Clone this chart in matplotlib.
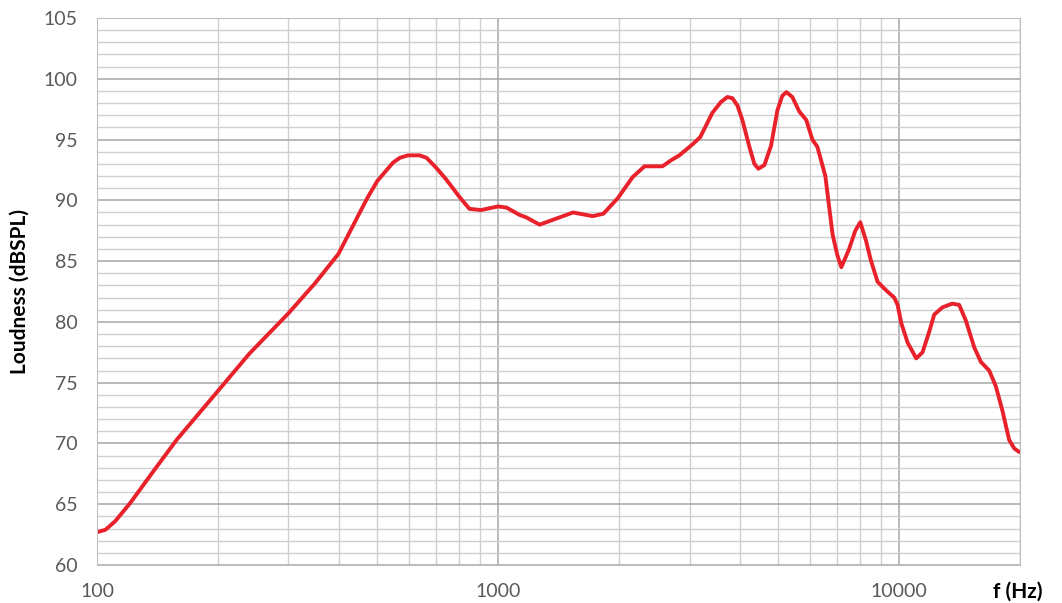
import matplotlib
matplotlib.use("Agg")

import matplotlib.pyplot as plt
from matplotlib.ticker import MultipleLocator, FixedLocator, NullFormatter

# frequency response (Hz, dBSPL)
freq = [100, 105, 111, 121, 141, 158, 200, 240, 300, 350, 400, 452, 474, 500,
        547, 569, 596, 637, 663, 700, 743, 800, 848, 906, 1000, 1050, 1131,
        1175, 1269, 1370, 1537, 1722, 1830, 1990, 2163, 2317, 2569, 2700, 2830,
        3051, 3190, 3421, 3596, 3729, 3838, 3950, 4064, 4231, 4353, 4455, 4611,
        4791, 4968, 5111, 5231, 5413, 5635, 5867, 6072, 6250, 6542, 6820, 7008,
        7172, 7500, 7770, 7995, 8260, 8490, 8830, 9270, 9716, 9904, 10118,
        10490, 11024, 11430, 11880, 12223, 12820, 13551, 14105, 14660, 15380,
        15980, 16756, 17410, 18080, 18790, 19340, 19900]
loud = [62.7, 62.9, 63.6, 65.1, 68.1, 70.3, 74.3, 77.4, 80.7, 83.2, 85.6, 89.0,
        90.3, 91.6, 93.1, 93.5, 93.7, 93.7, 93.5, 92.7, 91.7, 90.3, 89.3, 89.2,
        89.5, 89.4, 88.8, 88.6, 88.0, 88.4, 89.0, 88.7, 88.9, 90.2, 91.9, 92.8,
        92.8, 93.3, 93.7, 94.6, 95.2, 97.2, 98.1, 98.5, 98.4, 97.8, 96.6, 94.4,
        93.0, 92.6, 92.9, 94.5, 97.4, 98.6, 98.9, 98.5, 97.3, 96.6, 95.0, 94.4,
        92.0, 87.2, 85.5, 84.5, 86.0, 87.5, 88.2, 86.7, 85.1, 83.3, 82.6, 82.0,
        81.4, 79.9, 78.3, 77.0, 77.5, 79.2, 80.6, 81.2, 81.5, 81.4, 80.1, 77.9,
        76.7, 76.0, 74.7, 72.7, 70.3, 69.6, 69.3]

x_ticks = [100, 1000, 10000]
x_minor = [m * d for d in (100, 1000, 10000) for m in range(2, 10)] + [20000]

plt.rcParams['font.family'] = ['Lato', 'DejaVu Sans']

fig = plt.figure(figsize=(10.62, 6.03), dpi=100)
ax = fig.add_axes([97/1062, 1 - 565/603, (1020-97)/1062, (565-18)/603])

ax.plot(freq, loud, color='#e8212a', lw=2.8, solid_joinstyle='round',
        solid_capstyle='round')

ax.set_xscale('log')
ax.set_xlim(100, 20000)
ax.set_ylim(60, 105)

ax.xaxis.set_major_locator(FixedLocator(x_ticks))
ax.xaxis.set_minor_locator(FixedLocator(x_minor))
ax.xaxis.set_minor_formatter(NullFormatter())
ax.set_xticklabels([str(t) for t in x_ticks])
ax.yaxis.set_major_locator(MultipleLocator(5))
ax.yaxis.set_minor_locator(MultipleLocator(1))

ax.grid(which='major', color='#a6a6a6', lw=1.1)
ax.grid(which='minor', color='#cfcfcf', lw=1.0)
ax.set_axisbelow(True)
for s in ax.spines.values():
    s.set_color('#bfbfbf')

ax.tick_params(which='both', length=0)
ax.tick_params(axis='y', pad=14, labelsize=14, labelcolor='#595959')
ax.tick_params(axis='x', pad=13, labelsize=14, labelcolor='#595959')

ax.set_ylabel('Loudness (dBSPL)', fontsize=15, fontweight='bold', labelpad=10)
fig.text(1018/1062, 1 - 592/603, 'f (Hz)', fontsize=15, fontweight='bold',
         ha='center', va='center')

fig.savefig('out.png', dpi=100)
